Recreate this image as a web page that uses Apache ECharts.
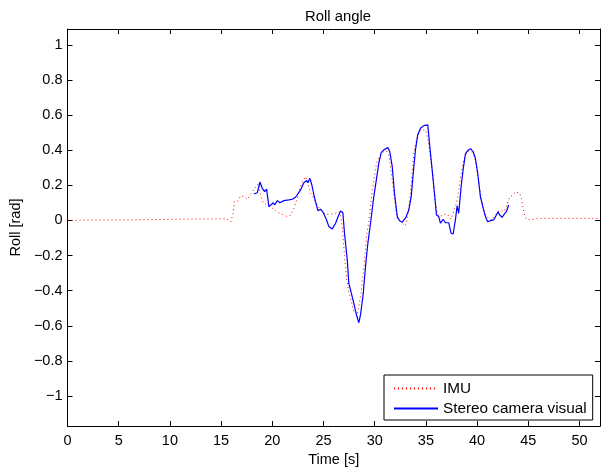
<!DOCTYPE html>
<html>
<head>
<meta charset="utf-8">
<script src="https://cdn.jsdelivr.net/npm/echarts@6/dist/echarts.min.js"></script>
<style>
html,body{margin:0;padding:0;background:#fff;}
#chart{width:601px;height:473px;}
</style>
</head>
<body>
<div id="chart"></div>
<script>
// ---- data ----
var xTicks = [0, 5, 10, 15, 20, 25, 30, 35, 40, 45, 50];
var yTicks = [-1, -0.8, -0.6, -0.4, -0.2, 0, 0.2, 0.4, 0.6, 0.8, 1];

var imuT = [0, 2, 4, 6, 8, 10, 12, 14, 15.5, 15.95, 16.16, 16.3, 16.6, 16.9, 17.2, 17.55, 17.9, 18.2, 18.47, 18.7, 18.86, 19.12, 19.51, 20.0, 20.32, 20.64, 21.13, 21.46, 21.79, 22.11, 22.44, 22.69, 22.93, 23.25, 23.41, 23.57, 23.74, 24.06, 24.39, 24.71, 25.03, 25.37, 25.85, 26.18, 26.5, 26.66, 26.83, 26.93, 27.05, 27.25, 27.47, 27.64, 27.8, 27.96, 28.29, 28.55, 28.68, 28.78, 28.88, 29.0, 29.1, 29.2, 29.42, 29.59, 29.76, 29.91, 30.18, 30.5, 30.85, 31.15, 31.38, 31.54, 31.71, 31.86, 32.03, 32.2, 32.52, 33.0, 33.17, 33.33, 33.49, 33.66, 33.82, 34.08, 34.3, 34.63, 34.96, 35.18, 35.38, 35.61, 35.77, 35.93, 36.1, 36.35, 36.74, 37.07, 37.23, 37.46, 37.98, 38.11, 38.3, 38.44, 38.69, 38.96, 39.28, 39.61, 39.83, 40.06, 40.32, 40.59, 40.81, 41.13, 41.46, 41.79, 42.01, 42.27, 42.6, 42.86, 43.08, 43.25, 43.51, 43.74, 43.9, 44.16, 44.32, 44.49, 44.62, 44.81, 45.2, 46, 48, 50, 52];
var imuV = [0.0, 0.002, 0.003, 0.004, 0.005, 0.006, 0.008, 0.008, 0.01, -0.007, 0.04, 0.107, 0.107, 0.14, 0.136, 0.12, 0.15, 0.174, 0.202, 0.21, 0.136, 0.101, 0.088, 0.07, 0.056, 0.044, 0.031, 0.022, 0.031, 0.07, 0.126, 0.183, 0.221, 0.25, 0.24, 0.193, 0.155, 0.126, 0.088, 0.06, 0.041, 0.035, 0.037, 0.041, 0.05, 0.031, -0.035, -0.111, -0.2, -0.329, -0.406, -0.443, -0.481, -0.52, -0.538, -0.453, -0.415, -0.339, -0.301, -0.235, -0.158, -0.092, -0.007, 0.079, 0.174, 0.231, 0.326, 0.37, 0.39, 0.395, 0.373, 0.307, 0.231, 0.155, 0.079, 0.013, -0.007, -0.031, 0.003, 0.07, 0.155, 0.269, 0.383, 0.459, 0.506, 0.516, 0.516, 0.468, 0.383, 0.288, 0.202, 0.107, 0.041, 0.022, 0.035, 0.037, 0.037, 0.007, 0.098, 0.136, 0.212, 0.269, 0.345, 0.383, 0.398, 0.383, 0.345, 0.25, 0.155, 0.07, 0.031, 0.013, 0.003, 0.031, 0.05, 0.06, 0.05, 0.079, 0.117, 0.136, 0.145, 0.164, 0.168, 0.155, 0.126, 0.07, 0.031, 0.007, 0.003, 0.012, 0.012, 0.012, 0.012];

var stereoT = [18.2, 18.54, 18.79, 19.02, 19.25, 19.44, 19.67, 19.83, 20.1, 20.22, 20.49, 20.74, 21.13, 21.62, 21.95, 22.27, 22.76, 23.08, 23.35, 23.47, 23.67, 23.86, 24.06, 24.22, 24.45, 24.71, 24.98, 25.3, 25.52, 25.85, 26.18, 26.4, 26.66, 26.89, 27.05, 27.32, 27.47, 27.64, 27.8, 27.96, 28.22, 28.45, 28.61, 28.88, 29.1, 29.33, 29.59, 29.91, 30.18, 30.4, 30.63, 30.89, 31.28, 31.47, 31.71, 31.93, 32.2, 32.45, 32.68, 33.0, 33.33, 33.56, 33.76, 33.98, 34.2, 34.47, 34.79, 35.18, 35.38, 35.61, 35.83, 36.03, 36.25, 36.42, 36.68, 36.91, 37.23, 37.46, 37.66, 37.88, 38.05, 38.2, 38.3, 38.44, 38.63, 38.86, 39.08, 39.35, 39.61, 39.83, 40.06, 40.32, 40.59, 40.81, 41.03, 41.3, 41.62, 41.88, 42.05, 42.2, 42.44, 42.66, 42.86, 43.08];
var stereoV = [0.151, 0.158, 0.219, 0.183, 0.164, 0.178, 0.079, 0.07, 0.101, 0.088, 0.113, 0.101, 0.113, 0.117, 0.121, 0.132, 0.174, 0.215, 0.227, 0.215, 0.24, 0.202, 0.145, 0.107, 0.056, 0.064, 0.044, 0.003, -0.035, -0.048, -0.016, 0.018, 0.054, 0.044, -0.073, -0.225, -0.358, -0.396, -0.392, -0.472, -0.538, -0.582, -0.538, -0.415, -0.263, -0.13, -0.016, 0.136, 0.24, 0.326, 0.386, 0.402, 0.415, 0.392, 0.307, 0.155, 0.022, -0.003, -0.01, 0.013, 0.06, 0.136, 0.269, 0.402, 0.487, 0.525, 0.54, 0.544, 0.421, 0.288, 0.155, 0.031, 0.022, -0.016, 0.007, -0.013, -0.013, -0.073, -0.077, 0.003, 0.083, 0.041, 0.031, 0.193, 0.288, 0.379, 0.398, 0.409, 0.392, 0.354, 0.269, 0.136, 0.07, 0.022, -0.007, -0.001, 0.003, 0.031, 0.05, 0.031, 0.018, 0.037, 0.05, 0.088];

function pairs(t, v) { return t.map(function (x, i) { return [x, v[i]]; }); }

var FONT = '"Liberation Sans", Arial, Helvetica, sans-serif';
var FS = 14.5;

var chart = echarts.init(document.getElementById('chart'), null, { renderer: 'canvas' });

function xAx(pos, show) {
  return {
    type: 'value', min: 0, max: 52, position: pos,
    axisLine: { show: true, onZero: false, lineStyle: { color: '#000', width: 1 } },
    axisTick: { show: true, inside: true, length: 5, customValues: xTicks, lineStyle: { color: '#000', width: 1 } },
    axisLabel: { show: show, customValues: xTicks, margin: 7, color: '#000', fontSize: FS, fontFamily: FONT },
    splitLine: { show: false },
    name: show ? 'Time [s]' : '', nameLocation: 'middle', nameGap: 24,
    nameTextStyle: { color: '#000', fontSize: FS, fontFamily: FONT }
  };
}
function yAx(pos, show) {
  return {
    type: 'value', min: -1.17, max: 1.09, position: pos,
    axisLine: { show: true, onZero: false, lineStyle: { color: '#000', width: 1 } },
    axisTick: { show: true, inside: true, length: 5, customValues: yTicks, lineStyle: { color: '#000', width: 1 } },
    axisLabel: { show: show, customValues: yTicks, margin: 5, color: '#000', fontSize: FS, fontFamily: FONT,
      formatter: function (v) { var s = String(Math.round(v * 10) / 10); return s.replace('-', '\u2212'); } },
    splitLine: { show: false },
    name: show ? 'Roll [rad]' : '', nameLocation: 'middle', nameGap: 41, nameRotate: 90,
    nameTextStyle: { color: '#000', fontSize: FS, fontFamily: FONT }
  };
}

chart.setOption({
  animation: false,
  backgroundColor: '#fff',
  title: {
    text: 'Roll angle', left: 333, top: 4, textAlign: 'center',
    textStyle: { color: '#000', fontSize: 14.8, fontWeight: 'normal', fontFamily: FONT }
  },
  grid: { left: 66, right: 1, top: 29, bottom: 47, containLabel: false },
  xAxis: [xAx('bottom', true), xAx('top', false)],
  yAxis: [yAx('left', true), yAx('right', false)],
  legend: {
    data: ['IMU', 'Stereo camera visual'],
    orient: 'vertical', left: 384, top: 375,
    itemWidth: 44, itemHeight: 14, itemGap: 5,
    padding: [6, 6, 4, 9],
    itemStyle: { opacity: 0 },
    borderColor: '#000', borderWidth: 1, backgroundColor: '#fff', borderRadius: 0,
    textStyle: { color: '#000', fontSize: 15.3, fontFamily: FONT }
  },
  series: [
    {
      name: 'IMU', type: 'line', xAxisIndex: 0, yAxisIndex: 0,
      data: pairs(imuT, imuV), symbol: 'none', showSymbol: false,
      lineStyle: { color: '#ff0000', width: 1, type: [1, 3] },
      itemStyle: { color: '#ff0000' }
    },
    {
      name: 'Stereo camera visual', type: 'line', xAxisIndex: 0, yAxisIndex: 0,
      data: pairs(stereoT, stereoV), symbol: 'none', showSymbol: false,
      lineStyle: { color: '#0000ff', width: 1.2 },
      itemStyle: { color: '#0000ff' }
    }
  ]
});
</script>
</body>
</html>
